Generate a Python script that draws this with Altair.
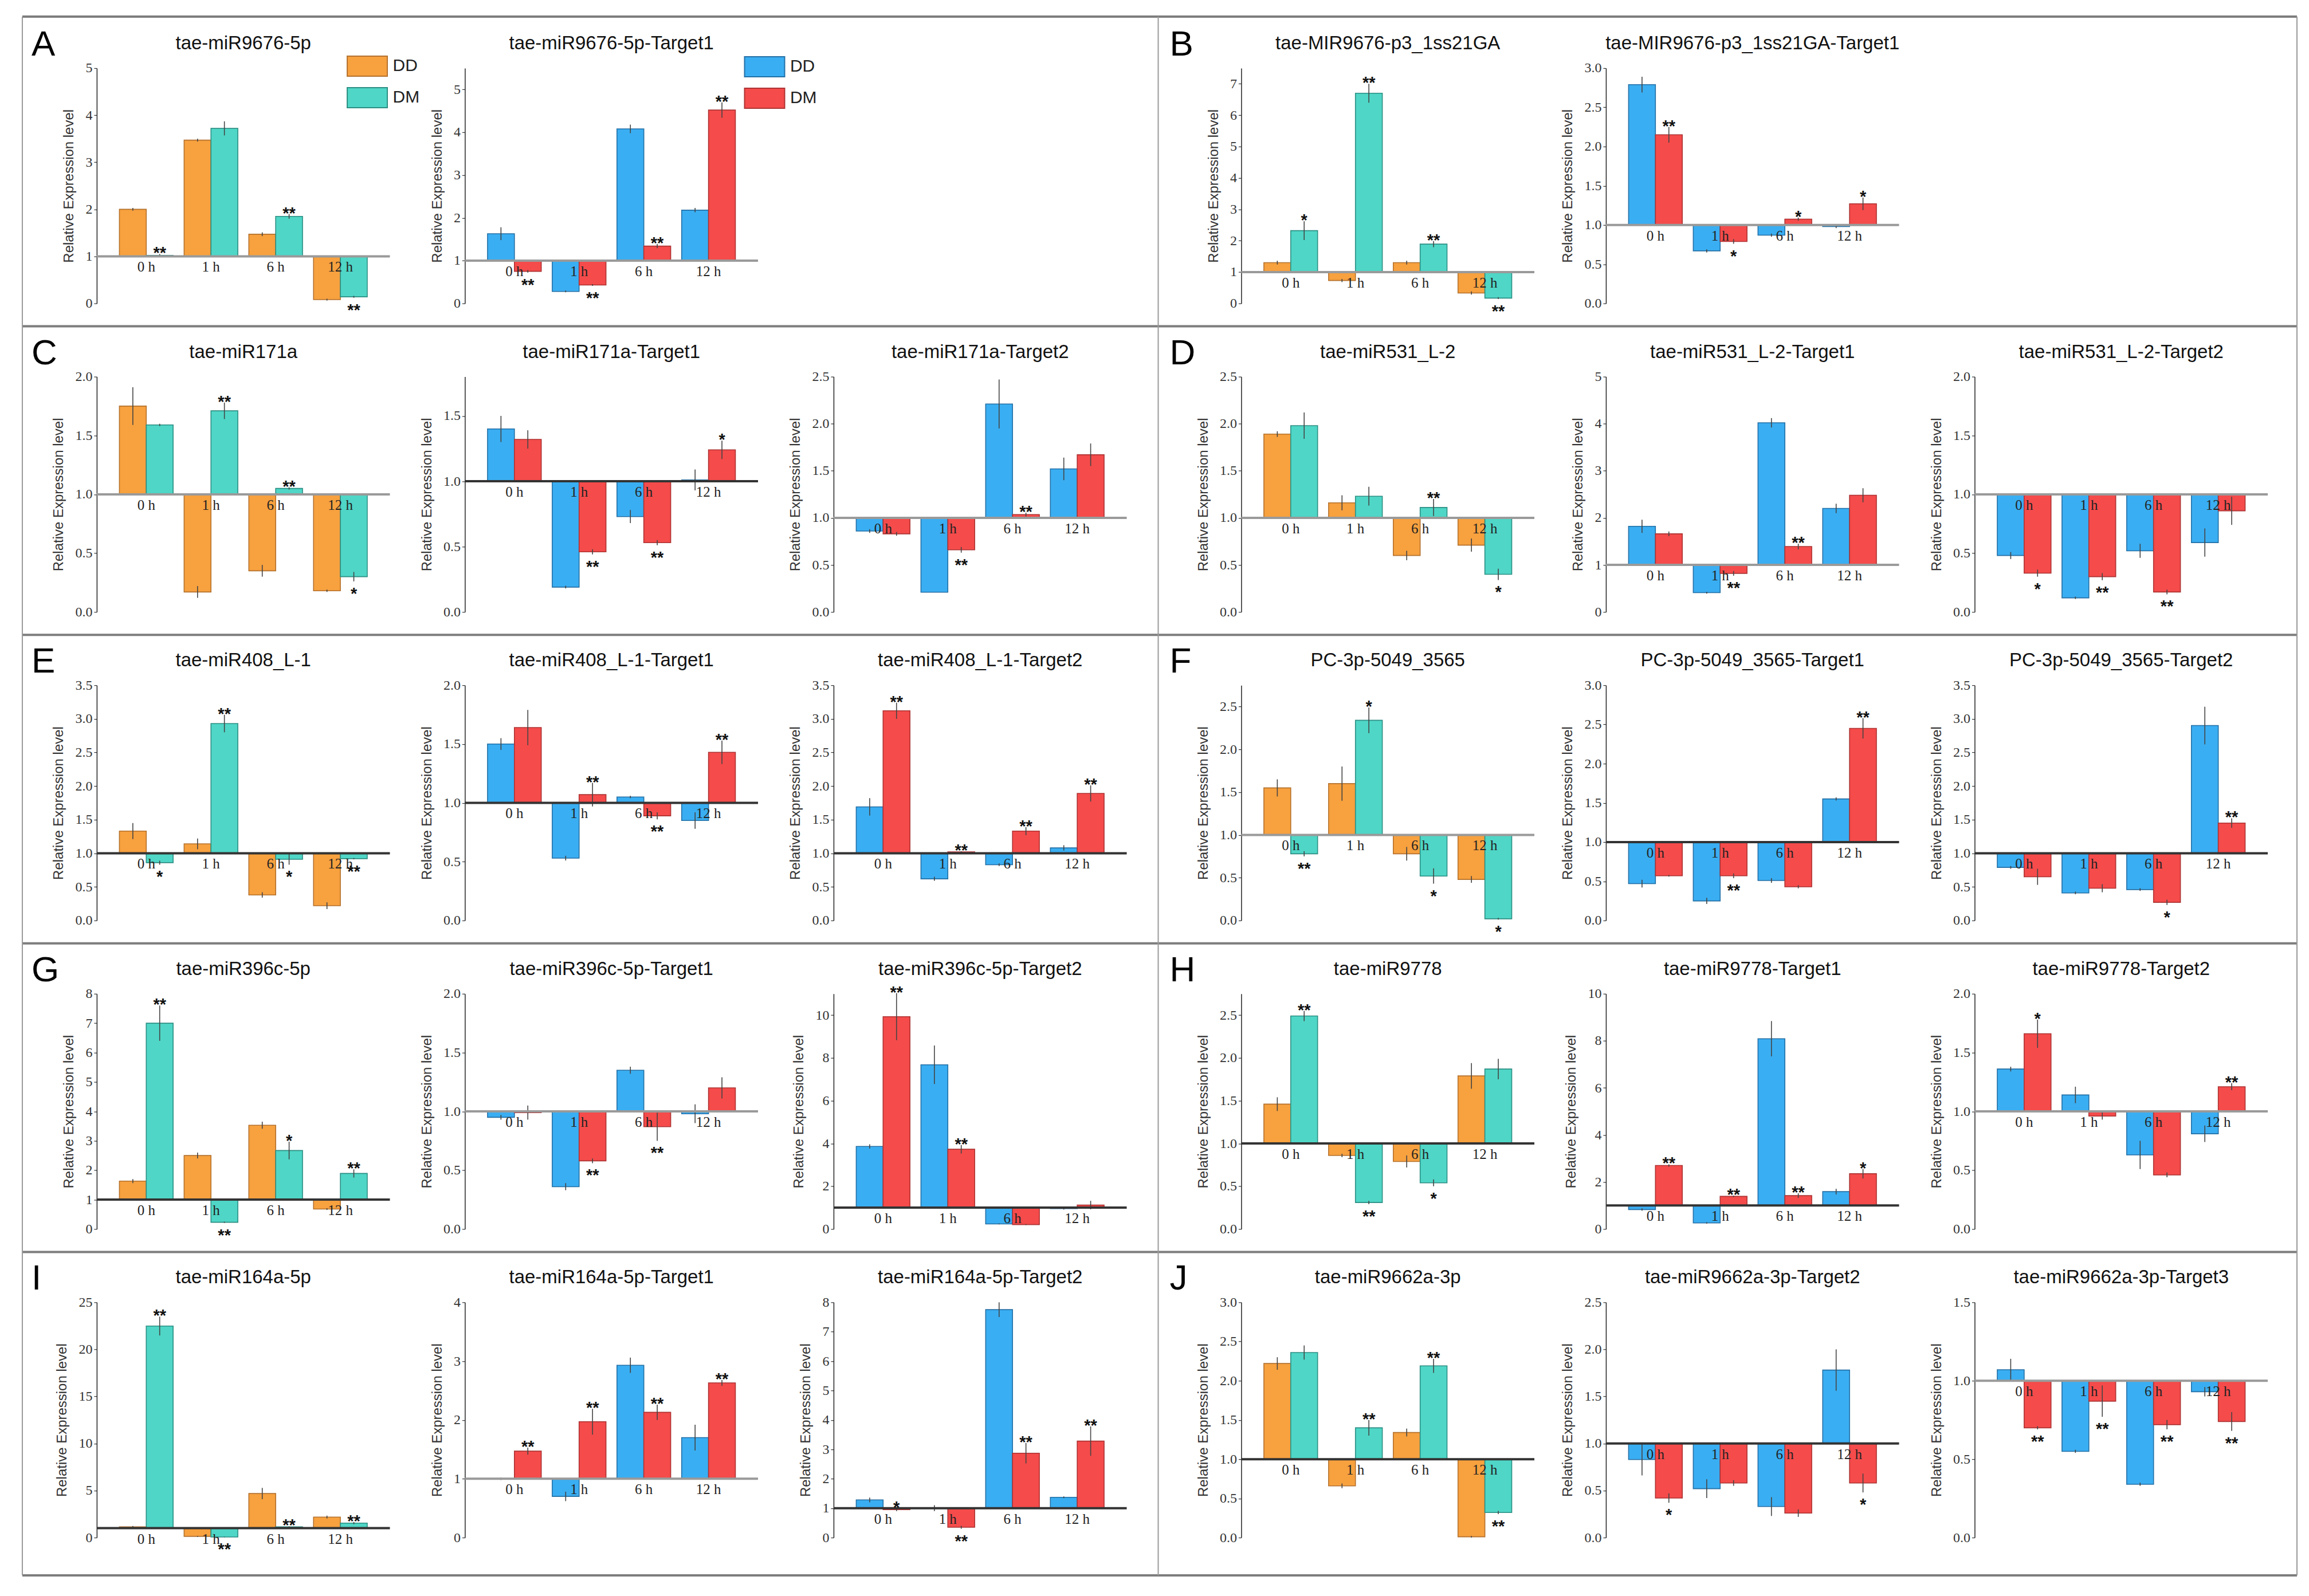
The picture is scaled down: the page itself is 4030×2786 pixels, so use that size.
import altair as alt
import pandas as pd

# ---------------- data ----------------
TIMES = ["0 h", "1 h", "6 h", "12 h"]
GROUPS = ["DD", "DM"]
YTITLE = "Relative Expression level"

P_A1 = dict(title="tae-miR9676-5p", kind="mi", ymax=5.0, ticks=[0, 1, 2, 3, 4, 5],
            dd=[2.0, 3.47, 1.47, 0.08], dd_se=[0.03, 0.03, 0.04, 0.02],
            dm=[1.02, 3.72, 1.85, 0.14], dm_se=[0.03, 0.15, 0.05, 0.02],
            sig=["**", "", "**", "**"])
P_A2 = dict(title="tae-miR9676-5p-Target1", kind="tg", ymax=5.5, ticks=[0, 1, 2, 3, 4, 5],
            dd=[1.63, 0.28, 4.08, 2.18], dd_se=[0.15, 0.02, 0.1, 0.05],
            dm=[0.75, 0.43, 1.34, 4.52], dm_se=[0.03, 0.02, 0.05, 0.18],
            sig=["**", "**", "**", "**"])
P_B1 = dict(title="tae-MIR9676-p3_1ss21GA", kind="mi", ymax=7.5, ticks=[0, 1, 2, 3, 4, 5, 6, 7],
            dd=[1.3, 0.73, 1.3, 0.33], dd_se=[0.06, 0.05, 0.06, 0.05],
            dm=[2.32, 6.7, 1.89, 0.17], dm_se=[0.3, 0.3, 0.1, 0.03],
            sig=["*", "**", "**", "**"])
P_B2 = dict(title="tae-MIR9676-p3_1ss21GA-Target1", kind="tg", ymax=3.0, ticks=[0, 0.5, 1, 1.5, 2, 2.5, 3],
            dd=[2.79, 0.67, 0.87, 0.98], dd_se=[0.1, 0.02, 0.02, 0.02],
            dm=[2.15, 0.79, 1.075, 1.27], dm_se=[0.1, 0.03, 0.02, 0.08],
            sig=["**", "*", "*", "*"])

P_C1 = dict(title="tae-miR171a", kind="mi", ymax=2.0, ticks=[0, 0.5, 1, 1.5, 2],
            dd=[1.75, 0.17, 0.35, 0.18], dd_se=[0.16, 0.05, 0.05, 0.01],
            dm=[1.59, 1.71, 1.05, 0.30], dm_se=[0.01, 0.07, 0.01, 0.04],
            sig=["", "**", "**", "*"])
P_C2 = dict(title="tae-miR171a-Target1", kind="tg", ymax=1.8, ticks=[0, 0.5, 1, 1.5],
            dd=[1.40, 0.19, 0.73, 1.01], dd_se=[0.1, 0.01, 0.05, 0.08],
            dm=[1.32, 0.46, 0.53, 1.24], dm_se=[0.07, 0.02, 0.02, 0.07],
            sig=["", "**", "**", "*"])
P_C3 = dict(title="tae-miR171a-Target2", kind="tg", ymax=2.5, ticks=[0, 0.5, 1, 1.5, 2, 2.5],
            dd=[0.86, 0.21, 2.21, 1.52], dd_se=[0.02, 0.0, 0.26, 0.12],
            dm=[0.83, 0.66, 1.035, 1.67], dm_se=[0.02, 0.03, 0.02, 0.12],
            sig=["", "**", "**", ""])
P_D1 = dict(title="tae-miR531_L-2", kind="mi", ymax=2.5, ticks=[0, 0.5, 1, 1.5, 2, 2.5],
            dd=[1.89, 1.16, 0.6, 0.71], dd_se=[0.03, 0.08, 0.05, 0.07],
            dm=[1.98, 1.23, 1.11, 0.40], dm_se=[0.14, 0.1, 0.09, 0.06],
            sig=["", "", "**", "*"])
P_D2 = dict(title="tae-miR531_L-2-Target1", kind="tg", ymax=5.0, ticks=[0, 1, 2, 3, 4, 5],
            dd=[1.82, 0.41, 4.02, 2.2], dd_se=[0.14, 0.02, 0.1, 0.1],
            dm=[1.66, 0.82, 1.39, 2.48], dm_se=[0.05, 0.05, 0.06, 0.15],
            sig=["", "**", "**", ""])
P_D3 = dict(title="tae-miR531_L-2-Target2", kind="tg", ymax=2.0, ticks=[0, 0.5, 1, 1.5, 2],
            dd=[0.48, 0.12, 0.52, 0.59], dd_se=[0.03, 0.01, 0.06, 0.12],
            dm=[0.33, 0.30, 0.17, 0.86], dm_se=[0.03, 0.03, 0.02, 0.12],
            sig=["*", "**", "**", ""])

P_E1 = dict(title="tae-miR408_L-1", kind="mi", ymax=3.5, ticks=[0, 0.5, 1, 1.5, 2, 2.5, 3, 3.5],
            dd=[1.33, 1.14, 0.38, 0.22], dd_se=[0.12, 0.08, 0.04, 0.05],
            dm=[0.86, 2.93, 0.91, 0.92], dm_se=[0.03, 0.13, 0.08, 0.01],
            sig=["*", "**", "*", "**"])
P_E2 = dict(title="tae-miR408_L-1-Target1", kind="tg", ymax=2.0, ticks=[0, 0.5, 1, 1.5, 2],
            dd=[1.50, 0.53, 1.05, 0.85], dd_se=[0.05, 0.02, 0.01, 0.07],
            dm=[1.64, 1.07, 0.89, 1.43], dm_se=[0.15, 0.1, 0.03, 0.1],
            sig=["", "**", "**", "**"])
P_E3 = dict(title="tae-miR408_L-1-Target2", kind="tg", ymax=3.5, ticks=[0, 0.5, 1, 1.5, 2, 2.5, 3, 3.5],
            dd=[1.69, 0.62, 0.83, 1.08], dd_se=[0.13, 0.03, 0.02, 0.04],
            dm=[3.12, 1.02, 1.33, 1.89], dm_se=[0.12, 0.01, 0.06, 0.12],
            sig=["**", "**", "**", "**"])
P_F1 = dict(title="PC-3p-5049_3565", kind="mi", ymax=2.75, ticks=[0, 0.5, 1, 1.5, 2, 2.5],
            dd=[1.55, 1.6, 0.78, 0.48], dd_se=[0.1, 0.2, 0.08, 0.04],
            dm=[0.78, 2.34, 0.52, 0.02], dm_se=[0.03, 0.15, 0.09, 0.01],
            sig=["**", "*", "*", "*"])
P_F2 = dict(title="PC-3p-5049_3565-Target1", kind="tg", ymax=3.0, ticks=[0, 0.5, 1, 1.5, 2, 2.5, 3],
            dd=[0.47, 0.25, 0.51, 1.55], dd_se=[0.05, 0.04, 0.03, 0.02],
            dm=[0.57, 0.57, 0.43, 2.45], dm_se=[0.01, 0.03, 0.02, 0.13],
            sig=["", "**", "", "**"])
P_F3 = dict(title="PC-3p-5049_3565-Target2", kind="tg", ymax=3.5, ticks=[0, 0.5, 1, 1.5, 2, 2.5, 3, 3.5],
            dd=[0.79, 0.41, 0.46, 2.9], dd_se=[0.02, 0.02, 0.02, 0.28],
            dm=[0.65, 0.48, 0.27, 1.45], dm_se=[0.12, 0.06, 0.04, 0.07],
            sig=["", "", "*", "**"])

P_G1 = dict(title="tae-miR396c-5p", kind="mi", ymax=8.0, ticks=[0, 1, 2, 3, 4, 5, 6, 7, 8],
            dd=[1.63, 2.5, 3.53, 0.68], dd_se=[0.07, 0.1, 0.12, 0.03],
            dm=[7.0, 0.23, 2.67, 1.89], dm_se=[0.6, 0.02, 0.3, 0.14],
            sig=["**", "**", "*", "**"])
P_G2 = dict(title="tae-miR396c-5p-Target1", kind="tg", ymax=2.0, ticks=[0, 0.5, 1, 1.5, 2],
            dd=[0.95, 0.36, 1.35, 0.98], dd_se=[0.02, 0.03, 0.03, 0.08],
            dm=[0.99, 0.58, 0.87, 1.2], dm_se=[0.06, 0.02, 0.12, 0.09],
            sig=["", "**", "**", ""])
P_G3 = dict(title="tae-miR396c-5p-Target2", kind="tg", ymax=11.0, ticks=[0, 2, 4, 6, 8, 10],
            dd=[3.86, 7.68, 0.24, 0.96], dd_se=[0.1, 0.9, 0.02, 0.05],
            dm=[9.93, 3.73, 0.21, 1.12], dm_se=[1.1, 0.2, 0.02, 0.2],
            sig=["**", "**", "", ""])
P_H1 = dict(title="tae-miR9778", kind="mi", ymax=2.75, ticks=[0, 0.5, 1, 1.5, 2, 2.5],
            dd=[1.46, 0.86, 0.79, 1.79], dd_se=[0.08, 0.02, 0.07, 0.15],
            dm=[2.49, 0.31, 0.54, 1.87], dm_se=[0.06, 0.02, 0.04, 0.12],
            sig=["**", "**", "*", ""])
P_H2 = dict(title="tae-miR9778-Target1", kind="tg", ymax=10.0, ticks=[0, 2, 4, 6, 8, 10],
            dd=[0.83, 0.26, 8.09, 1.59], dd_se=[0.05, 0.03, 0.75, 0.12],
            dm=[2.7, 1.39, 1.42, 2.35], dm_se=[0.05, 0.03, 0.1, 0.2],
            sig=["**", "**", "**", "*"])
P_H3 = dict(title="tae-miR9778-Target2", kind="tg", ymax=2.0, ticks=[0, 0.5, 1, 1.5, 2],
            dd=[1.36, 1.14, 0.63, 0.81], dd_se=[0.02, 0.07, 0.12, 0.07],
            dm=[1.66, 0.96, 0.46, 1.21], dm_se=[0.12, 0.03, 0.02, 0.03],
            sig=["*", "", "", "**"])

P_I1 = dict(title="tae-miR164a-5p", kind="mi", ymax=25.0, ticks=[0, 5, 10, 15, 20, 25],
            dd=[1.14, 0.13, 4.68, 2.18], dd_se=[0.1, 0.05, 0.6, 0.15],
            dm=[22.48, 0.06, 1.14, 1.54], dm_se=[1.0, 0.02, 0.05, 0.12],
            sig=["**", "**", "**", "**"])
P_I2 = dict(title="tae-miR164a-5p-Target1", kind="tg", ymax=4.0, ticks=[0, 1, 2, 3, 4],
            dd=[1.0, 0.70, 2.93, 1.70], dd_se=[0.02, 0.08, 0.13, 0.22],
            dm=[1.47, 1.97, 2.13, 2.63], dm_se=[0.06, 0.22, 0.13, 0.05],
            sig=["**", "**", "**", "**"])
P_I3 = dict(title="tae-miR164a-5p-Target2", kind="tg", ymax=8.0, ticks=[0, 1, 2, 3, 4, 5, 6, 7, 8],
            dd=[1.28, 1.0, 7.75, 1.37], dd_se=[0.08, 0.1, 0.25, 0.03],
            dm=[0.95, 0.35, 2.87, 3.28], dm_se=[0.05, 0.05, 0.35, 0.5],
            sig=["*", "**", "**", "**"])
P_J1 = dict(title="tae-miR9662a-3p", kind="mi", ymax=3.0, ticks=[0, 0.5, 1, 1.5, 2, 2.5, 3],
            dd=[2.22, 0.66, 1.34, 0.01], dd_se=[0.08, 0.03, 0.05, 0.01],
            dm=[2.36, 1.40, 2.19, 0.32], dm_se=[0.09, 0.1, 0.09, 0.02],
            sig=["", "**", "**", "**"])
P_J2 = dict(title="tae-miR9662a-3p-Target2", kind="tg", ymax=2.5, ticks=[0, 0.5, 1, 1.5, 2, 2.5],
            dd=[0.83, 0.52, 0.33, 1.78], dd_se=[0.17, 0.1, 0.1, 0.22],
            dm=[0.42, 0.58, 0.26, 0.58], dm_se=[0.05, 0.03, 0.04, 0.1],
            sig=["*", "", "", "*"])
P_J3 = dict(title="tae-miR9662a-3p-Target3", kind="tg", ymax=1.5, ticks=[0, 0.5, 1, 1.5],
            dd=[1.07, 0.55, 0.34, 0.93], dd_se=[0.07, 0.01, 0.01, 0.03],
            dm=[0.70, 0.87, 0.72, 0.74], dm_se=[0.01, 0.1, 0.03, 0.06],
            sig=["**", "**", "**", "**"])

# ---------------- style ----------------
SANS = "Liberation Sans, Arial, sans-serif"
SERIF = "Liberation Serif, Times New Roman, serif"
MI_COLORS = ["#F7A13F", "#4FD6C6"]
MI_EDGES = ["#B5722E", "#2C8F84"]
TG_COLORS = ["#3AAEF2", "#F54B4B"]
TG_EDGES = ["#2470A6", "#AE3333"]
DARK_BASE = {"C2", "E1", "E2", "E3", "F2", "F3", "G1", "G3", "H1", "H2", "I1", "I3", "J1", "J2"}

W, H = 512, 411
ROW_SP = 128
ROW_STEP = H + ROW_SP
COLS = [512, 131, 512, 132, 512, 200, 512, 125, 512, 132, 512]
ONE = pd.DataFrame({"k": [0]})


def frame(p):
    rows = []
    for i, t in enumerate(TIMES):
        for g, vals, ses in (("DD", p["dd"], p["dd_se"]), ("DM", p["dm"], p["dm_se"])):
            v, e = vals[i], ses[i]
            s = p["sig"][i] if g == "DM" else ""
            up = (v + e) >= 1.0
            rows.append(dict(time=t, group=g, value=v, ref=1.0, lo=v - e, hi=v + e,
                             sig=s, up=up, star_y=(v + e) if up else (v - e)))
    return pd.DataFrame(rows)


def panel(key, p, letter=None, letter_x=-114, legend_pos=None, extra=()):
    df = frame(p)
    colors = MI_COLORS if p["kind"] == "mi" else TG_COLORS
    edges = MI_EDGES if p["kind"] == "mi" else TG_EDGES
    fmt = ".1f" if any(float(t) % 1 for t in p["ticks"]) else "d"
    ysc = alt.Scale(domain=[0, p["ymax"]], nice=False, zero=False)
    yaxis = alt.Axis(values=p["ticks"], format=fmt, title=YTITLE, grid=False,
                     titleFont=SANS, titleFontSize=24, titleFontWeight="normal", titleColor="#333",
                     titlePadding=16, labelFont=SERIF, labelFontSize=24, labelColor="#333",
                     labelPadding=3, tickSize=5, tickColor="#333", tickWidth=1.2,
                     domainColor="#222", domainWidth=1.5)
    xenc = alt.X("time:N", sort=TIMES,
                 scale=alt.Scale(domain=TIMES, paddingInner=0.17, paddingOuter=0.35), axis=None)
    xo = alt.XOffset("group:N", sort=GROUPS, scale=alt.Scale(domain=GROUPS))
    if legend_pos is not None:
        leg = alt.Legend(orient="none", legendX=legend_pos[0], legendY=legend_pos[1], title=None,
                         symbolType="M-2,-1H2V1H-2Z", symbolSize=1225, symbolStrokeColor="#6b6b6b",
                         symbolStrokeWidth=2, symbolOpacity=1, labelFont=SANS, labelFontSize=30,
                         labelColor="#222", labelOffset=26, rowPadding=12, direction="vertical")
    else:
        leg = None
    base = alt.Chart(df)
    bars = base.mark_bar(strokeWidth=1.6).encode(
        x=xenc, xOffset=xo,
        y=alt.Y("value:Q", scale=ysc, axis=yaxis), y2="ref:Q",
        color=alt.Color("group:N", scale=alt.Scale(domain=GROUPS, range=colors), legend=leg),
        stroke=alt.Stroke("group:N", scale=alt.Scale(domain=GROUPS, range=edges), legend=None),
    )
    err = base.mark_rule(color="#444", strokeWidth=1.6).encode(
        x=xenc, xOffset=xo, y=alt.Y("lo:Q", scale=ysc, axis=yaxis), y2="hi:Q")
    bcol = "#333333" if key in DARK_BASE else "#9a9a9a"
    baseline = alt.Chart(pd.DataFrame({"ref": [1.0]})).mark_rule(color=bcol, strokeWidth=4).encode(
        y=alt.Y("ref:Q", scale=ysc, axis=yaxis))
    labels = alt.Chart(pd.DataFrame({"time": TIMES, "ref": [1.0] * 4})).mark_text(
        baseline="top", dy=7, font=SERIF, fontSize=25, color="#222").encode(
        x=xenc, y=alt.Y("ref:Q", scale=ysc, axis=yaxis), text="time:N")
    st_up = base.transform_filter("datum.sig != '' && datum.up").mark_text(
        baseline="alphabetic", dy=8, font=SANS, fontSize=29, fontWeight="bold", color="#111").encode(
        x=xenc, xOffset=xo, y=alt.Y("star_y:Q", scale=ysc, axis=yaxis), text="sig:N")
    st_dn = base.transform_filter("datum.sig != '' && !datum.up").mark_text(
        baseline="alphabetic", dy=31, font=SANS, fontSize=29, fontWeight="bold", color="#111").encode(
        x=xenc, xOffset=xo, y=alt.Y("star_y:Q", scale=ysc, axis=yaxis), text="sig:N")
    title = alt.Chart(ONE).mark_text(
        text=p["title"], align="center", baseline="alphabetic", font=SANS, fontSize=33,
        color="#111").encode(x=alt.value(W / 2), y=alt.value(-33))
    layers = [bars, err, baseline, labels, st_up, st_dn, title]
    if letter:
        layers.append(alt.Chart(ONE).mark_text(
            text=letter, align="left", baseline="alphabetic", font=SANS, fontSize=62, color="#000").encode(
            x=alt.value(letter_x), y=alt.value(-22)))
    layers.extend(extra)
    return alt.layer(*layers).properties(width=W, height=H)


def spacer(w):
    return alt.Chart(ONE).mark_text(text="").encode(
        x=alt.value(0), y=alt.value(0)).properties(width=w, height=H)


# decorative frame lines (drawn from the first panel, pixel offsets)
def frame_lines():
    left, mid, right = -130, 1854, 3843
    top, bottom = -90, 4 * ROW_STEP + H + 66
    out = []
    hs = [top] + [k * ROW_STEP - 88 for k in range(1, 5)] + [bottom]
    for yv in hs:
        out.append(alt.Chart(ONE).mark_rule(color="#7d7d7d", strokeWidth=4).encode(
            x=alt.value(left), x2=alt.value(right), y=alt.value(yv)))
    for xv in (left, mid, right):
        out.append(alt.Chart(ONE).mark_rule(color="#9a9a9a", strokeWidth=2).encode(
            x=alt.value(xv), y=alt.value(top), y2=alt.value(bottom)))
    return out


rows = [
    [panel("A1", P_A1, "A", legend_pos=(454, -22), extra=frame_lines()), spacer(COLS[1]),
     panel("A2", P_A2, legend_pos=(505, -21)), spacer(COLS[3]), spacer(COLS[4]), spacer(COLS[5]),
     panel("B1", P_B1, "B", letter_x=-125), spacer(COLS[7]), panel("B2", P_B2), spacer(COLS[9]), spacer(COLS[10])],
    [panel("C1", P_C1, "C"), spacer(COLS[1]), panel("C2", P_C2), spacer(COLS[3]), panel("C3", P_C3),
     spacer(COLS[5]), panel("D1", P_D1, "D", letter_x=-125), spacer(COLS[7]), panel("D2", P_D2),
     spacer(COLS[9]), panel("D3", P_D3)],
    [panel("E1", P_E1, "E"), spacer(COLS[1]), panel("E2", P_E2), spacer(COLS[3]), panel("E3", P_E3),
     spacer(COLS[5]), panel("F1", P_F1, "F", letter_x=-125), spacer(COLS[7]), panel("F2", P_F2),
     spacer(COLS[9]), panel("F3", P_F3)],
    [panel("G1", P_G1, "G"), spacer(COLS[1]), panel("G2", P_G2), spacer(COLS[3]), panel("G3", P_G3),
     spacer(COLS[5]), panel("H1", P_H1, "H", letter_x=-125), spacer(COLS[7]), panel("H2", P_H2),
     spacer(COLS[9]), panel("H3", P_H3)],
    [panel("I1", P_I1, "I"), spacer(COLS[1]), panel("I2", P_I2), spacer(COLS[3]), panel("I3", P_I3),
     spacer(COLS[5]), panel("J1", P_J1, "J", letter_x=-125), spacer(COLS[7]), panel("J2", P_J2),
     spacer(COLS[9]), panel("J3", P_J3)],
]
cells = [c for r in rows for c in r]

chart = alt.concat(*cells, columns=11, spacing={"row": ROW_SP, "column": 0},
                   align="each", bounds="flush").resolve_scale(
    color="independent", stroke="independent", x="independent", y="independent",
    xOffset="independent").resolve_legend(color="independent", stroke="independent").properties(
    padding={"left": 28, "top": 17, "right": 10, "bottom": 10}, background="white"
).configure_view(stroke="transparent")

chart.save("out.html", embed_options={"renderer": "svg", "actions": False})
